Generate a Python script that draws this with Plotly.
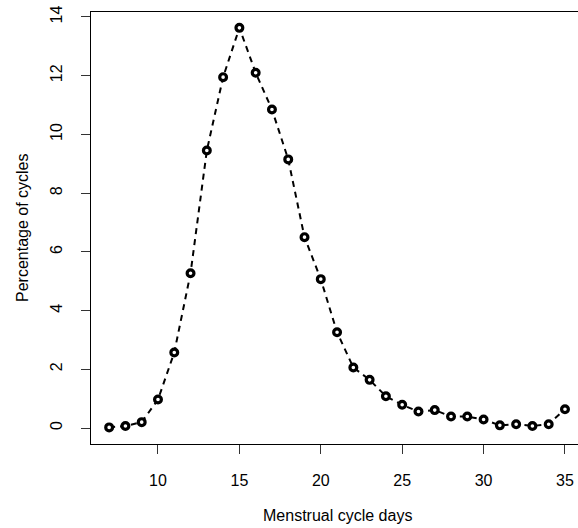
import plotly.graph_objects as go

days = list(range(7, 36))
percent = [0.02, 0.07, 0.20, 0.97, 2.57, 5.27, 9.45, 11.95, 13.63, 12.10,
           10.85, 9.15, 6.50, 5.07, 3.26, 2.06, 1.64, 1.08, 0.79, 0.56,
           0.61, 0.39, 0.39, 0.29, 0.09, 0.13, 0.07, 0.13, 0.64]
x_ticks = [10, 15, 20, 25, 30, 35]
y_ticks = [0, 2, 4, 6, 8, 10, 12, 14]

font = dict(family="Liberation Sans, Arial, sans-serif", size=16, color="black")

fig = go.Figure()
fig.add_trace(go.Scatter(
    x=days, y=percent, mode="lines+markers",
    line=dict(color="black", width=2, dash="6px,5px"),
    marker=dict(symbol="circle", size=6.8, color="white",
                line=dict(color="black", width=3.2)),
    showlegend=False, cliponaxis=False,
))

fig.update_layout(
    width=578, height=528,
    margin=dict(l=91, r=0, t=12, b=84),
    paper_bgcolor="white", plot_bgcolor="white",
    font=font,
    xaxis=dict(range=[5.885, 35.80], tickvals=x_ticks, ticks="outside", ticklen=9,
               tickwidth=1, tickcolor="#333", showline=True, linecolor="black",
               linewidth=1.3, mirror=True, showgrid=False, zeroline=False,
               ticklabelstandoff=13, tickfont=font),
    yaxis=dict(range=[-0.545, 14.17], tickvals=y_ticks, ticks="outside", ticklen=9,
               tickwidth=1, tickcolor="#333", showline=True, linecolor="black",
               linewidth=1.3, mirror=False, showgrid=False, zeroline=False,
               tickangle=-90, ticklabelstandoff=12, tickfont=font),
    annotations=[
        dict(text="Menstrual cycle days", xref="paper", yref="paper",
             x=(337 - 91) / 487, y=-(515 - 444) / 432, xanchor="center",
             yanchor="middle", showarrow=False, font=font),
        dict(text="Percentage of cycles", xref="paper", yref="paper",
             x=-(91 - 22) / 487, y=0.5, xanchor="center", yanchor="middle",
             textangle=-90, showarrow=False, font=font),
    ],
)

fig.write_html("out.html")
